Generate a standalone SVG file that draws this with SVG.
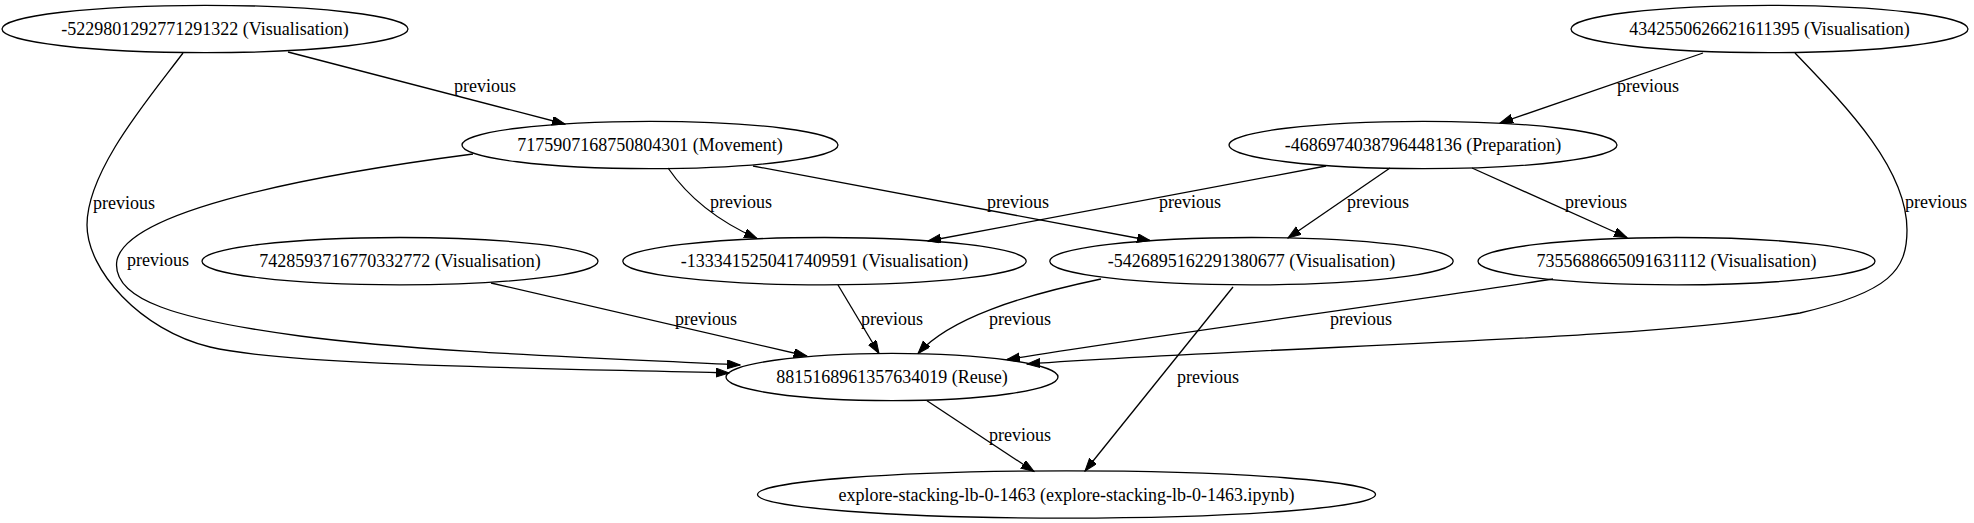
<svg xmlns="http://www.w3.org/2000/svg" width="1974" height="523" viewBox="0 0 1974 523">
<style>
.node ellipse{fill:none;stroke:#000;stroke-width:1.3}
.node text{font-family:"Liberation Serif","Times New Roman",serif;font-size:18px;text-anchor:middle;fill:#000}
.edge path{fill:none;stroke:#000;stroke-width:1.3;marker-end:url(#ah)}
.lbl{font-family:"Liberation Serif","Times New Roman",serif;font-size:18px;text-anchor:middle;fill:#000}
</style>
<defs>
<marker id="ah" markerUnits="userSpaceOnUse" markerWidth="14" markerHeight="10" refX="13" refY="4.5" orient="auto">
<path d="M0,0 L13,4.5 L0,9 z" fill="#000" stroke="#000" stroke-width="1"/>
</marker>
</defs>
<rect width="1974" height="523" fill="#fff"/>
<g id="edges" class="edge">
<path d="M288,52 L565,124"/>
<path d="M183,53 C150,97 87,170 87,225 C87,270 140,330 210,347 C290,366 550,368 729,373"/>
<path d="M473,154 C350,170 130,205 117,260 C110,300 180,320 300,336 C420,352 600,358 740,365"/>
<path d="M668,168 C690,200 720,222 757,238.5"/>
<path d="M753,166 L1150,240.5"/>
<path d="M1326,166 L928,241"/>
<path d="M1390,168 L1288,238"/>
<path d="M1472,168 L1627,237.5"/>
<path d="M1703,53 L1500,123"/>
<path d="M1795,53 C1850,110 1907,170 1907,230 C1907,270 1890,292 1800,313 C1650,340 1300,345 1027,364"/>
<path d="M1553,279 C1400,303 1150,336 1007,359.5"/>
<path d="M491,283 L806.7,356"/>
<path d="M838,285 L879,353.5"/>
<path d="M1101,279 C1020,296 950,318 918,353.5"/>
<path d="M1233,287 L1085,471"/>
<path d="M927,400.7 L1034,471.5"/>
<text class="lbl" x="485" y="92">previous</text>
<text class="lbl" x="124" y="209">previous</text>
<text class="lbl" x="158" y="266">previous</text>
<text class="lbl" x="741" y="208">previous</text>
<text class="lbl" x="1018" y="208">previous</text>
<text class="lbl" x="1190" y="208">previous</text>
<text class="lbl" x="1378" y="208">previous</text>
<text class="lbl" x="1596" y="208">previous</text>
<text class="lbl" x="1648" y="92">previous</text>
<text class="lbl" x="1936" y="208">previous</text>
<text class="lbl" x="1361" y="325">previous</text>
<text class="lbl" x="706" y="325">previous</text>
<text class="lbl" x="892" y="325">previous</text>
<text class="lbl" x="1020" y="325">previous</text>
<text class="lbl" x="1208" y="383">previous</text>
<text class="lbl" x="1020" y="441">previous</text>
</g>
<g id="n1" class="node"><ellipse cx="205" cy="29" rx="203" ry="23.7"/><text x="205" y="35">-5229801292771291322 (Visualisation)</text></g>
<g id="n2" class="node"><ellipse cx="1769.5" cy="29" rx="198.5" ry="23.7"/><text x="1769.5" y="35">4342550626621611395 (Visualisation)</text></g>
<g id="n3" class="node"><ellipse cx="650" cy="145" rx="188" ry="23.7"/><text x="650" y="151">7175907168750804301 (Movement)</text></g>
<g id="n4" class="node"><ellipse cx="1423" cy="145" rx="194" ry="23.7"/><text x="1423" y="151">-4686974038796448136 (Preparation)</text></g>
<g id="n5" class="node"><ellipse cx="400" cy="261.2" rx="198" ry="23.7"/><text x="400" y="267">7428593716770332772 (Visualisation)</text></g>
<g id="n6" class="node"><ellipse cx="824.5" cy="261.2" rx="201.7" ry="23.7"/><text x="824.5" y="267">-1333415250417409591 (Visualisation)</text></g>
<g id="n7" class="node"><ellipse cx="1251.5" cy="261.2" rx="201.7" ry="23.7"/><text x="1251.5" y="267">-5426895162291380677 (Visualisation)</text></g>
<g id="n8" class="node"><ellipse cx="1676.5" cy="261.2" rx="198.5" ry="23.7"/><text x="1676.5" y="267">7355688665091631112 (Visualisation)</text></g>
<g id="n9" class="node"><ellipse cx="892" cy="377" rx="166" ry="23.7"/><text x="892" y="383">8815168961357634019 (Reuse)</text></g>
<g id="n10" class="node"><ellipse cx="1066.5" cy="494.5" rx="309" ry="23.7"/><text x="1066.5" y="500.5">explore-stacking-lb-0-1463 (explore-stacking-lb-0-1463.ipynb)</text></g>
</svg>
